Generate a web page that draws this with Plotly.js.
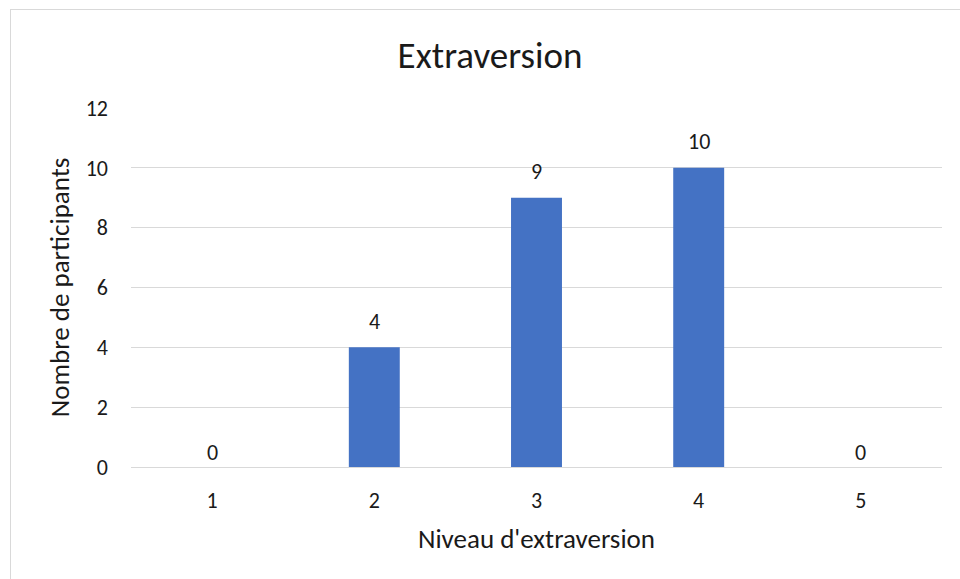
<!DOCTYPE html>
<html>
<head>
<meta charset="utf-8">
<script src="https://cdn.plot.ly/plotly-3.0.1.min.js"></script>
<style>
  html, body { margin: 0; padding: 0; background: #ffffff; overflow: hidden; }
  #wrap { position: relative; width: 960px; height: 579px; }
  #chart { position: absolute; left: 0; top: 0; width: 960px; height: 579px; }
  #frame { position: absolute; left: 10px; top: 9px; width: 970px; height: 590px;
           border: 1.5px solid #d9d9d9; pointer-events: none; box-sizing: border-box; }
</style>
</head>
<body>
<div id="wrap">
  <div id="chart"></div>
  <div id="frame"></div>
</div>
<script>
// Extraversion levels and participant counts
const levels = ['1', '2', '3', '4', '5'];
const participants = [0, 4, 9, 10, 0];
const yTicks = [0, 2, 4, 6, 8, 10, 12];

const FONT = 'Carlito, Lato, "Liberation Sans", sans-serif';
const INK = '#1a1a1a';

const bars = {
  type: 'bar',
  x: levels,
  y: participants,
  marker: { color: '#4472C4', line: { color: '#4472C4', width: 0 } },
  hoverinfo: 'x+y'
};

// value labels sit above each bar (x given as category index)
const labels = levels.map((lv, i) => ({
  x: i,
  y: participants[i],
  xref: 'x',
  yref: 'y',
  text: String(participants[i]),
  showarrow: false,
  xanchor: 'center',
  yanchor: 'middle',
  yshift: participants[i] > 0 ? 26 : 15,
  font: { family: FONT, size: 22, color: INK }
}));

const layout = {
  width: 960,
  height: 579,
  paper_bgcolor: '#ffffff',
  plot_bgcolor: '#ffffff',
  margin: { l: 131, r: 18, t: 108, b: 112 },
  bargap: 0.686,
  showlegend: false,
  font: { family: FONT, size: 22, color: INK },
  title: {
    text: 'Extraversion',
    font: { family: FONT, size: 37, color: INK },
    x: 490 / 960,
    xref: 'container',
    xanchor: 'center',
    y: 1 - 55 / 579,
    yref: 'container',
    yanchor: 'middle'
  },
  xaxis: {
    type: 'category',
    categoryorder: 'array',
    categoryarray: levels,
    range: [-0.5, levels.length - 0.5],
    autorange: false,
    showgrid: false,
    zeroline: false,
    showline: false,
    ticks: '',
    ticklabelstandoff: 18,
    tickfont: { family: FONT, size: 22, color: INK },
    title: {
      text: "Niveau d'extraversion",
      font: { family: FONT, size: 27, color: INK },
      standoff: 16
    }
  },
  yaxis: {
    range: [0, 12],
    autorange: false,
    tickvals: yTicks,
    ticktext: yTicks.map(String),
    showgrid: true,
    gridcolor: '#d9d9d9',
    gridwidth: 1,
    zeroline: true,
    zerolinecolor: '#d9d9d9',
    zerolinewidth: 1,
    showline: false,
    ticks: '',
    ticklabelstandoff: 22,
    tickfont: { family: FONT, size: 22, color: INK },
    title: {
      text: 'Nombre de participants',
      font: { family: FONT, size: 27, color: INK },
      standoff: 8
    }
  },
  annotations: labels
};

Plotly.newPlot('chart', [bars], layout, { staticPlot: true, displayModeBar: false });
</script>
</body>
</html>
